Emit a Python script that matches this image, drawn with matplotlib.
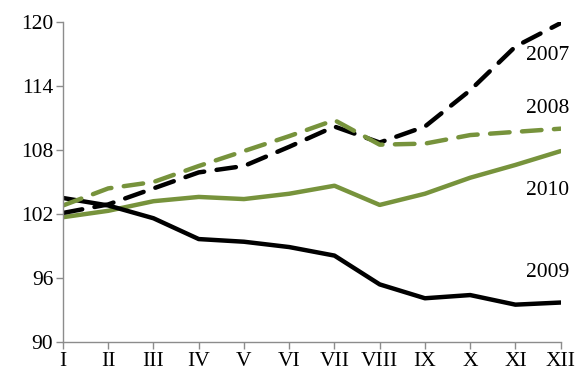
import matplotlib
matplotlib.use("Agg")
import matplotlib.pyplot as plt

months = ["I", "II", "III", "IV", "V", "VI", "VII", "VIII", "IX", "X", "XI", "XII"]
y2007 = [102.1, 102.9, 104.4, 105.9, 106.5, 108.3, 110.2, 108.7, 110.2, 113.6, 117.7, 119.9]
y2008 = [102.8, 104.4, 105.0, 106.5, 107.9, 109.3, 110.8, 108.5, 108.6, 109.4, 109.7, 110.0]
y2009 = [103.5, 102.8, 101.6, 99.65, 99.4, 98.9, 98.1, 95.4, 94.1, 94.4, 93.5, 93.7]
y2010 = [101.7, 102.3, 103.2, 103.6, 103.4, 103.9, 104.65, 102.85, 103.9, 105.4, 106.6, 107.9]
yticks = [90, 96, 102, 108, 114, 120]

green = "#77933C"
plt.rcParams["font.family"] = ["Liberation Serif", "DejaVu Serif"]

fig = plt.figure(figsize=(5.78, 3.70), dpi=100)
ax = fig.add_axes([0.109, 0.0757, 0.861, 0.8648])
x = list(range(len(months)))

dash = dict(dashes=(4.4, 2.8), dash_capstyle="round", solid_capstyle="round")
ax.plot(x, y2010, color=green, lw=3.2, solid_capstyle="round", solid_joinstyle="round")
ax.plot(x, y2009, color="black", lw=3.2, solid_capstyle="round", solid_joinstyle="round")
ax.plot(x, y2007, color="black", lw=3.2, **dash)
ax.plot(x, y2008, color=green, lw=3.2, **dash)

ax.set_xlim(0, 11)
ax.set_ylim(90, 120)
ax.set_xticks(x)
ax.set_xticklabels(months)
ax.set_yticks(yticks)
ax.tick_params(axis="both", direction="out", length=5, width=1, color="#8c8c8c",
               labelsize=15.5, pad=2)
for s in ["top", "right"]:
    ax.spines[s].set_visible(False)
for s in ["left", "bottom"]:
    ax.spines[s].set_color("#8c8c8c")
    ax.spines[s].set_linewidth(1)

labels = [("2007", 116.9), ("2008", 111.85), ("2010", 104.25), ("2009", 96.56)]
for t, yy in labels:
    ax.text(10.72, yy, t, ha="center", va="center", fontsize=15.5)

fig.savefig("out.png", dpi=100)
